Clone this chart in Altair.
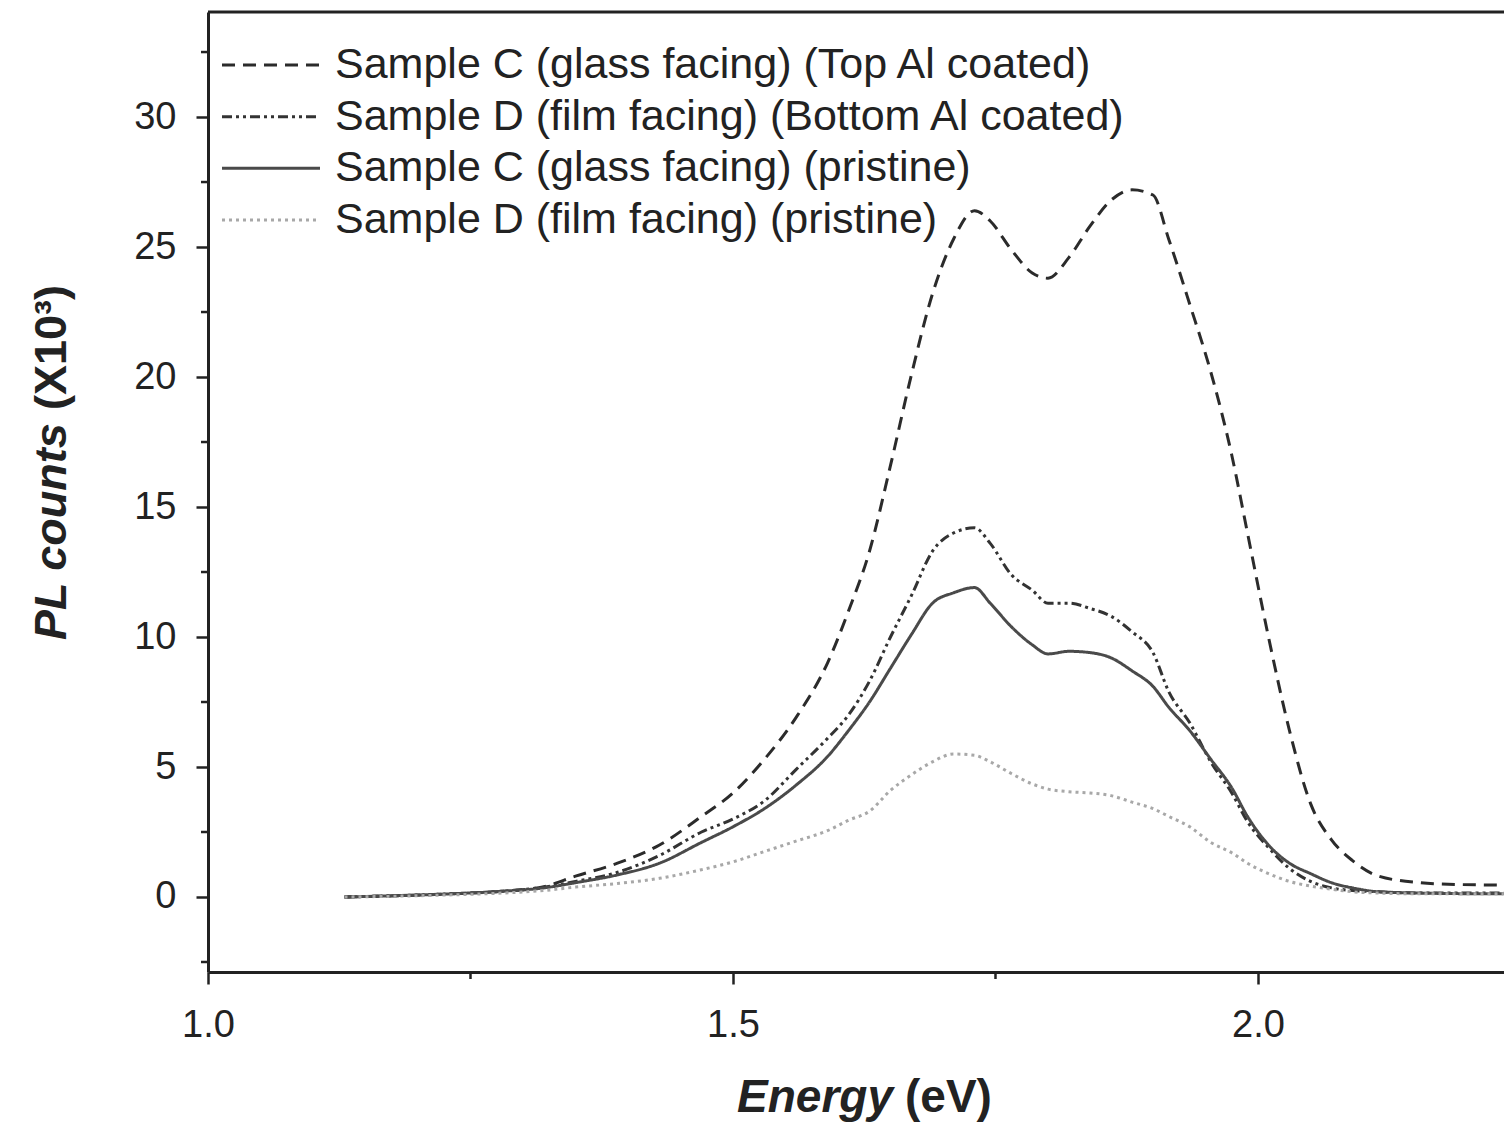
import altair as alt
import pandas as pd

# ---------------- data ----------------
energy = [1.13, 1.18, 1.23, 1.28, 1.32, 1.35, 1.39, 1.43, 1.47, 1.50,
          1.53, 1.56, 1.59, 1.61, 1.63, 1.65, 1.67, 1.69, 1.71, 1.73,
          1.745, 1.765, 1.785, 1.80, 1.82, 1.84, 1.86, 1.88, 1.90, 1.915,
          1.935, 1.955, 1.975, 1.99, 2.01, 2.03, 2.05, 2.07, 2.09, 2.115,
          2.155, 2.19, 2.234]

sample_c_top_al = [0, 0.05, 0.12, 0.22, 0.4, 0.8, 1.3, 2.0, 3.1, 4.0,
                   5.3, 6.9, 9.0, 11.0, 13.3, 16.6, 20.1, 23.2, 25.3, 26.4,
                   26.0, 24.9, 24.0, 23.8, 24.6, 25.8, 26.8, 27.2, 27.0, 25.3,
                   22.8, 20.2, 17.0, 14.0, 10.0, 6.4, 3.6, 2.2, 1.4, 0.8,
                   0.55, 0.48, 0.46]

sample_d_bottom_al = [0, 0.05, 0.12, 0.22, 0.38, 0.6, 0.95, 1.6, 2.5, 3.0,
                      3.7, 4.9, 6.1, 7.0, 8.3, 10.0, 11.6, 13.3, 14.0, 14.2,
                      13.6, 12.4, 11.8, 11.3, 11.3, 11.1, 10.8, 10.2, 9.4, 7.9,
                      6.7, 5.2, 4.0, 2.9, 1.9, 1.1, 0.6, 0.35, 0.25, 0.2,
                      0.15, 0.15, 0.15]

sample_c_pristine = [0, 0.05, 0.12, 0.22, 0.35, 0.55, 0.85, 1.3, 2.1, 2.7,
                     3.4, 4.3, 5.4, 6.4, 7.5, 8.8, 10.1, 11.3, 11.7, 11.9,
                     11.3, 10.4, 9.7, 9.35, 9.45, 9.4, 9.2, 8.7, 8.1, 7.3,
                     6.4, 5.3, 4.2, 3.1, 2.0, 1.3, 0.9, 0.55, 0.35, 0.2,
                     0.15, 0.13, 0.12]

sample_d_pristine = [0, 0.03, 0.08, 0.15, 0.25, 0.38, 0.52, 0.72, 1.05, 1.35,
                     1.75, 2.15, 2.55, 2.95, 3.3, 4.1, 4.7, 5.2, 5.5, 5.45,
                     5.2, 4.75, 4.35, 4.15, 4.05, 4.0, 3.9, 3.65, 3.4, 3.1,
                     2.7, 2.1, 1.7, 1.3, 0.9, 0.6, 0.42, 0.3, 0.2, 0.15,
                     0.12, 0.12, 0.12]

series_names = [
    "Sample C (glass facing) (Top Al coated)",
    "Sample D (film facing) (Bottom Al coated)",
    "Sample C (glass facing) (pristine)",
    "Sample D (film facing) (pristine)",
]
series_colors = ["#2b2b2b", "#333333", "#4a4a4a", "#a8a8a8"]
series_dashes = [[13, 8], [10, 4, 3, 4, 3, 4], [1, 0], [3, 4]]
series_widths = [3, 3, 2.2, 2.5]

y_major = [0, 5, 10, 15, 20, 25, 30]
y_minor = [-2.5, 2.5, 7.5, 12.5, 17.5, 22.5, 27.5, 32.5]
x_major = [1.0, 1.5, 2.0]
x_minor = [1.25, 1.75]

# ---------------- tables ----------------
rows = []
for name, vals in zip(series_names, [sample_c_top_al, sample_d_bottom_al,
                                     sample_c_pristine, sample_d_pristine]):
    for e, v in zip(energy, vals):
        rows.append({"series": name, "energy": e, "pl": v})
df = pd.DataFrame(rows)
legend_df = pd.DataFrame({"series": series_names})
ymin_df = pd.DataFrame({"v": y_minor})
xmin_df = pd.DataFrame({"v": x_minor})
one = pd.DataFrame({"a": [0]})

W, H = 1296, 960
FONT = "Liberation Sans"
INK = "#222222"

xs = alt.Scale(domain=[1.0, 2.2343], nice=False, zero=False)
ys = alt.Scale(domain=[-2.885, 34.04], nice=False, zero=False)
x_axis = alt.Axis(values=x_major, format=".1f", title=None, labelFlush=False, labelPadding=22)

color = alt.Color("series:N", scale=alt.Scale(domain=series_names, range=series_colors), legend=None)
dash = alt.StrokeDash("series:N", scale=alt.Scale(domain=series_names, range=series_dashes), legend=None)
width = alt.StrokeWidth("series:N", scale=alt.Scale(domain=series_names, range=series_widths), legend=None)

lines = alt.Chart(df).mark_line(interpolate="monotone").encode(
    x=alt.X("energy:Q", scale=xs, axis=x_axis),
    y=alt.Y("pl:Q", scale=ys,
            axis=alt.Axis(values=y_major, format="d", title=None, orient="left",
                          labelPadding=20)),
    color=color, strokeDash=dash, strokeWidth=width,
)

minor_y = alt.Chart(ymin_df).mark_rule(color=INK, strokeWidth=2.5).encode(
    y=alt.Y("v:Q", scale=ys, axis=None),
    x=alt.value(-7), x2=alt.value(0),
)
minor_x = alt.Chart(xmin_df).mark_rule(color=INK, strokeWidth=2.5).encode(
    x=alt.X("v:Q", scale=xs, axis=x_axis),
    y=alt.value(H), y2=alt.value(H + 7),
)
top_border = alt.Chart(one).mark_rule(color=INK, strokeWidth=3).encode(
    x=alt.value(0), x2=alt.value(W), y=alt.value(0)
)

leg_y = alt.Y("series:N", sort=series_names,
              scale=alt.Scale(type="point", domain=series_names, range=[53, 208], padding=0),
              axis=None)
legend_lines = alt.Chart(legend_df).mark_rule().encode(
    x=alt.value(14), x2=alt.value(112), y=leg_y,
    color=color, strokeDash=dash, strokeWidth=width,
)
legend_text = alt.Chart(legend_df).mark_text(
    align="left", baseline="middle", fontSize=43, font=FONT, color=INK
).encode(x=alt.value(127), y=leg_y, text="series:N")

xt1 = alt.Chart(one).mark_text(text="Energy", align="right", baseline="alphabetic",
                               fontSize=46, font=FONT, fontWeight="bold", fontStyle="italic",
                               color=INK).encode(x=alt.value(685), y=alt.value(1100))
xt2 = alt.Chart(one).mark_text(text="(eV)", align="left", baseline="alphabetic",
                               fontSize=46, font=FONT, fontWeight="bold",
                               color=INK).encode(x=alt.value(697), y=alt.value(1100))
yt1 = alt.Chart(one).mark_text(text="PL counts", align="left", baseline="alphabetic", angle=270,
                               fontSize=45, font=FONT, fontWeight="bold", fontStyle="italic",
                               color=INK).encode(x=alt.value(-142), y=alt.value(628))
yt2 = alt.Chart(one).mark_text(text="(X10³)", align="left", baseline="alphabetic", angle=270,
                               fontSize=45, font=FONT, fontWeight="bold",
                               color=INK).encode(x=alt.value(-142), y=alt.value(398))

chart = alt.layer(
    lines, minor_y, minor_x, top_border, legend_lines, legend_text, xt1, xt2, yt1, yt2
).resolve_scale(y="independent").properties(
    width=W, height=H,
    autosize=alt.AutoSizeParams(type="none"),
    padding={"left": 208, "top": 12, "right": 0, "bottom": 155},
    background="white",
).configure_view(stroke=None).configure_axis(
    grid=False, domainColor=INK, domainWidth=3, tickColor=INK, tickWidth=2.5, tickSize=12,
    labelFont=FONT, labelFontSize=38, labelColor=INK,
)

chart.save("out.html", embed_options={"renderer": "svg", "actions": False})
